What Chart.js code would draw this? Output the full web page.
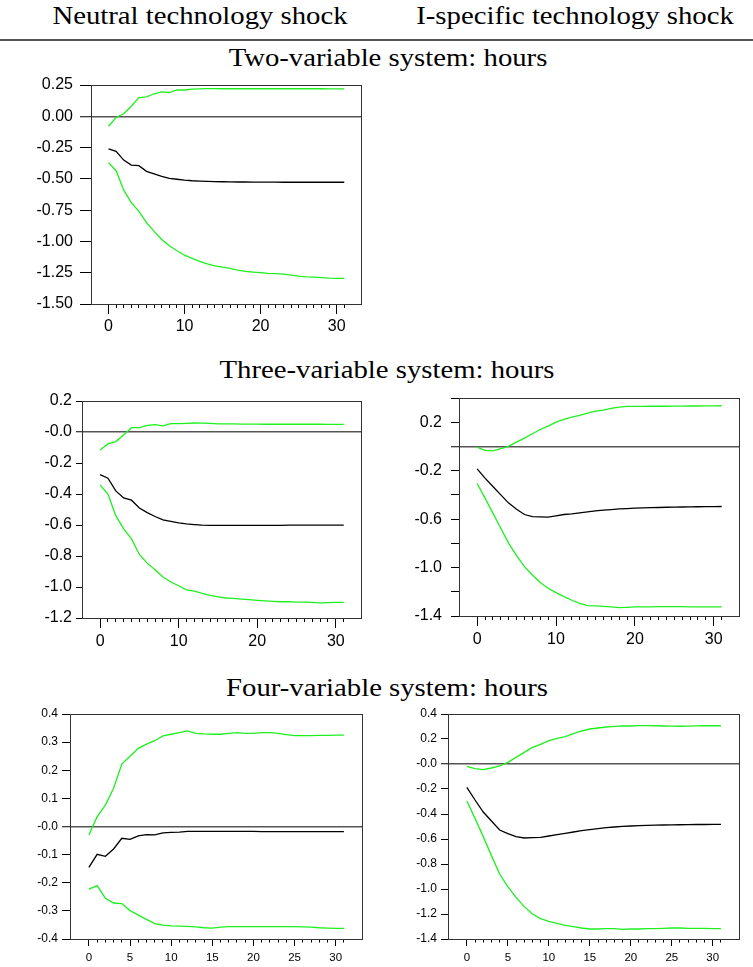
<!DOCTYPE html>
<html>
<head>
<meta charset="utf-8">
<title>Hours response to technology shocks</title>
<script src="https://cdn.jsdelivr.net/npm/chart.js@4.4.1/dist/chart.umd.min.js"></script>
<style>
  html, body { margin: 0; padding: 0; background: #fff; }
  body { width: 753px; height: 967px; position: relative; overflow: hidden;
         font-family: "Liberation Serif", "Times New Roman", serif; }
  .t { position: absolute; white-space: nowrap; font-size: 26px; line-height: 26px; color: #000;
       transform-origin: center top; transform: translateX(-50%) scaleX(1.105); }
  .rule { position: absolute; left: 0; top: 39px; width: 753px; height: 2px; background: #555; }
  .panel { position: absolute; }
  .panel canvas { display: block; }
</style>
</head>
<body>
<div class="t" style="left:200px; top:3px;">Neutral technology shock</div>
<div class="t" style="left:575px; top:3px;">I-specific technology shock</div>
<div class="rule"></div>
<div class="t" style="left:388px; top:45px;">Two-variable system: hours</div>
<div class="t" style="left:387px; top:357px;">Three-variable system: hours</div>
<div class="t" style="left:387px; top:675px;">Four-variable system: hours</div>

<div class="panel" id="p1"><canvas id="c1"></canvas></div>
<div class="panel" id="p2"><canvas id="c2"></canvas></div>
<div class="panel" id="p3"><canvas id="c3"></canvas></div>
<div class="panel" id="p4"><canvas id="c4"></canvas></div>
<div class="panel" id="p5"><canvas id="c5"></canvas></div>

<script>
// Horizon (quarters after the shock)
const horizons = [0,1,2,3,4,5,6,7,8,9,10,11,12,13,14,15,16,17,18,19,20,21,22,23,24,25,26,27,28,29,30,31];

// Two-variable system, neutral shock: response of hours and its band
const twoVarNeutralUpper = [-0.08,-0.01,0.02,0.08,0.15,0.155,0.18,0.195,0.19,0.21,0.21,0.217,0.219,0.221,0.221,0.22,
                            0.22,0.22,0.22,0.22,0.22,0.22,0.22,0.22,0.22,0.22,0.22,0.22,0.22,0.219,0.219,0.219];
const twoVarNeutralIrf   = [-0.26,-0.28,-0.35,-0.39,-0.395,-0.44,-0.46,-0.48,-0.497,-0.503,-0.51,-0.515,-0.518,-0.52,-0.522,-0.523,
                            -0.524,-0.525,-0.525,-0.526,-0.526,-0.526,-0.526,-0.527,-0.527,-0.527,-0.527,-0.527,-0.527,-0.527,-0.527,-0.527];
const twoVarNeutralLower = [-0.37,-0.435,-0.59,-0.69,-0.76,-0.85,-0.92,-0.985,-1.035,-1.075,-1.11,-1.135,-1.16,-1.18,-1.195,-1.205,
                            -1.215,-1.23,-1.24,-1.245,-1.25,-1.255,-1.257,-1.262,-1.27,-1.278,-1.283,-1.286,-1.29,-1.294,-1.295,-1.295];

// Three-variable system, neutral shock
const threeVarNeutralUpper = [-0.116,-0.077,-0.062,-0.019,0.028,0.028,0.043,0.047,0.039,0.054,0.054,0.056,0.058,0.057,0.055,0.053,
                              0.052,0.052,0.051,0.051,0.051,0.05,0.05,0.05,0.05,0.05,0.05,0.05,0.05,0.049,0.049,0.049];
const threeVarNeutralIrf   = [-0.275,-0.298,-0.38,-0.425,-0.44,-0.49,-0.52,-0.545,-0.567,-0.577,-0.586,-0.593,-0.597,-0.601,-0.603,-0.603,
                              -0.603,-0.603,-0.603,-0.603,-0.602,-0.602,-0.602,-0.602,-0.601,-0.601,-0.601,-0.601,-0.601,-0.601,-0.601,-0.601];
const threeVarNeutralLower = [-0.341,-0.40,-0.54,-0.625,-0.69,-0.79,-0.846,-0.889,-0.936,-0.968,-0.992,-1.018,-1.026,-1.041,-1.054,-1.063,
                              -1.071,-1.073,-1.078,-1.082,-1.086,-1.09,-1.093,-1.095,-1.095,-1.097,-1.097,-1.099,-1.103,-1.101,-1.099,-1.099];

// Three-variable system, investment-specific shock
const threeVarInvestUpper = [-0.005,-0.033,-0.036,-0.019,0.003,0.036,0.069,0.105,0.14,0.168,0.2,0.223,0.242,0.256,0.276,0.292,
                             0.3,0.314,0.325,0.331,0.331,0.331,0.332,0.332,0.332,0.333,0.333,0.334,0.334,0.335,0.335,0.336];
const threeVarInvestIrf   = [-0.185,-0.262,-0.331,-0.40,-0.468,-0.518,-0.562,-0.579,-0.581,-0.584,-0.573,-0.562,-0.557,-0.548,-0.54,-0.532,
                             -0.526,-0.521,-0.515,-0.513,-0.51,-0.507,-0.505,-0.504,-0.502,-0.501,-0.5,-0.499,-0.498,-0.497,-0.497,-0.496];
const threeVarInvestLower = [-0.306,-0.427,-0.551,-0.675,-0.80,-0.901,-0.992,-1.061,-1.124,-1.171,-1.207,-1.24,-1.27,-1.295,-1.314,-1.317,
                             -1.32,-1.325,-1.331,-1.328,-1.325,-1.325,-1.324,-1.323,-1.322,-1.322,-1.323,-1.324,-1.325,-1.325,-1.325,-1.325];

// Four-variable system, neutral shock
const fourVarNeutralUpper = [-0.03,0.035,0.076,0.136,0.222,0.25,0.278,0.293,0.305,0.322,0.328,0.334,0.34,0.331,0.329,0.328,
                             0.328,0.331,0.334,0.331,0.331,0.334,0.334,0.331,0.327,0.323,0.323,0.323,0.324,0.324,0.325,0.325];
const fourVarNeutralIrf   = [-0.145,-0.099,-0.106,-0.08,-0.042,-0.046,-0.033,-0.029,-0.03,-0.023,-0.021,-0.02,-0.017,-0.017,-0.017,-0.017,
                             -0.017,-0.017,-0.017,-0.017,-0.017,-0.018,-0.018,-0.018,-0.018,-0.018,-0.018,-0.018,-0.018,-0.018,-0.018,-0.018];
const fourVarNeutralLower = [-0.223,-0.21,-0.255,-0.272,-0.274,-0.299,-0.315,-0.33,-0.345,-0.351,-0.353,-0.354,-0.355,-0.357,-0.36,-0.361,
                             -0.358,-0.356,-0.356,-0.356,-0.356,-0.356,-0.356,-0.356,-0.356,-0.356,-0.357,-0.358,-0.36,-0.361,-0.362,-0.362];

// Four-variable system, investment-specific shock
const fourVarInvestUpper = [-0.019,-0.037,-0.045,-0.032,-0.016,0.013,0.053,0.093,0.133,0.157,0.187,0.205,0.219,0.243,0.264,0.28,
                            0.288,0.296,0.301,0.304,0.304,0.307,0.307,0.306,0.304,0.303,0.302,0.303,0.305,0.306,0.306,0.306];
const fourVarInvestIrf   = [-0.187,-0.288,-0.384,-0.456,-0.528,-0.557,-0.581,-0.592,-0.589,-0.587,-0.576,-0.565,-0.555,-0.544,-0.533,-0.525,
                            -0.517,-0.509,-0.504,-0.499,-0.496,-0.493,-0.491,-0.489,-0.488,-0.487,-0.486,-0.485,-0.484,-0.484,-0.483,-0.483];
const fourVarInvestLower = [-0.296,-0.435,-0.581,-0.733,-0.88,-0.981,-1.067,-1.141,-1.2,-1.237,-1.259,-1.275,-1.291,-1.301,-1.312,-1.32,
                            -1.32,-1.317,-1.317,-1.323,-1.32,-1.32,-1.317,-1.317,-1.315,-1.312,-1.312,-1.315,-1.315,-1.315,-1.317,-1.317];

// Axis ticks and their labels
const xLabelledEvery10 = [0, 10, 20, 30];
const xLabelledEvery5  = [0, 5, 10, 15, 20, 25, 30];

const yTicksTwoVar  = [0.25, 0, -0.25, -0.5, -0.75, -1, -1.25, -1.5];
const yLabelsTwoVar = ['0.25', '0.00', '-0.25', '-0.50', '-0.75', '-1.00', '-1.25', '-1.50'];

const yTicksThreeNeutral  = [0.2, 0, -0.2, -0.4, -0.6, -0.8, -1, -1.2];
const yLabelsThreeNeutral = ['0.2', '-0.0', '-0.2', '-0.4', '-0.6', '-0.8', '-1.0', '-1.2'];

const yTicksThreeInvest  = [0.4, 0.2, 0, -0.2, -0.4, -0.6, -0.8, -1, -1.2, -1.4];
const yLabelsThreeInvest = ['', '0.2', '', '-0.2', '', '-0.6', '', '-1.0', '', '-1.4'];

const yTicksFourNeutral  = [0.4, 0.3, 0.2, 0.1, 0, -0.1, -0.2, -0.3, -0.4];
const yLabelsFourNeutral = ['0.4', '0.3', '0.2', '0.1', '-0.0', '-0.1', '-0.2', '-0.3', '-0.4'];

const yTicksFourInvest  = [0.4, 0.2, 0, -0.2, -0.4, -0.6, -0.8, -1, -1.2, -1.4];
const yLabelsFourInvest = ['0.4', '0.2', '-0.0', '-0.2', '-0.4', '-0.6', '-0.8', '-1.0', '-1.2', '-1.4'];

// ---- styling and placement ----
const BAND_COLOR = '#1ef01e';
const IRF_COLOR = '#000000';
const ZERO_COLOR = '#555555';
const FRAME_COLOR = '#333333';
const SANS = '"Liberation Sans", Arial, Helvetica, sans-serif';
const PAD = 12;

// plot-area box (left, top, right, bottom) and axis dimensions for each panel
const panels = [
  { id: 'p1', canvas: 'c1', box: [91, 85, 361, 304], yW: 64, xH: 34,
    upper: twoVarNeutralUpper, irf: twoVarNeutralIrf, lower: twoVarNeutralLower,
    yMin: -1.5, yMax: 0.25, yTicks: yTicksTwoVar, yLabels: yLabelsTwoVar, xMajor: xLabelledEvery10,
    font: 16, yTickLen: 11, yPad: 7, majorLen: 10, minorLen: 4, xPad: 3 },
  { id: 'p2', canvas: 'c2', box: [82, 401, 361, 618], yW: 60, xH: 34,
    upper: threeVarNeutralUpper, irf: threeVarNeutralIrf, lower: threeVarNeutralLower,
    yMin: -1.2, yMax: 0.2, yTicks: yTicksThreeNeutral, yLabels: yLabelsThreeNeutral, xMajor: xLabelledEvery10,
    font: 16, yTickLen: 6, yPad: 4, majorLen: 10, minorLen: 4, xPad: 4 },
  { id: 'p3', canvas: 'c3', box: [459, 398, 739, 616], yW: 60, xH: 34,
    upper: threeVarInvestUpper, irf: threeVarInvestIrf, lower: threeVarInvestLower,
    yMin: -1.4, yMax: 0.4, yTicks: yTicksThreeInvest, yLabels: yLabelsThreeInvest, xMajor: xLabelledEvery10,
    font: 16, yTickLen: 8, yPad: 9, majorLen: 10, minorLen: 4, xPad: 4 },
  { id: 'p4', canvas: 'c4', box: [70, 714, 362, 939], yW: 50, xH: 28,
    upper: fourVarNeutralUpper, irf: fourVarNeutralIrf, lower: fourVarNeutralLower,
    yMin: -0.4, yMax: 0.4, yTicks: yTicksFourNeutral, yLabels: yLabelsFourNeutral, xMajor: xLabelledEvery5,
    font: 12, xFont: 11.5, yTickLen: 8, yPad: 4, majorLen: 7, minorLen: 3.5, xPad: 5 },
  { id: 'p5', canvas: 'c5', box: [448, 714, 739, 939], yW: 50, xH: 28,
    upper: fourVarInvestUpper, irf: fourVarInvestIrf, lower: fourVarInvestLower,
    yMin: -1.4, yMax: 0.4, yTicks: yTicksFourInvest, yLabels: yLabelsFourInvest, xMajor: xLabelledEvery5,
    font: 12, xFont: 11.5, yTickLen: 7, yPad: 4, majorLen: 7, minorLen: 3.5, xPad: 5 }
];

const X_MIN = -2.3, X_MAX = 33.2;

// outline around the plotting area
const framePlugin = {
  id: 'frame',
  afterDatasetsDraw(chart) {
    const { ctx, chartArea: a } = chart;
    ctx.save();
    ctx.strokeStyle = FRAME_COLOR;
    ctx.lineWidth = 1;
    const l = Math.round(a.left) + 0.5, t = Math.round(a.top) + 0.5;
    ctx.strokeRect(l, t, Math.round(a.right) - Math.round(a.left), Math.round(a.bottom) - Math.round(a.top));
    ctx.restore();
  }
};

function series(values, color) {
  return {
    data: horizons.map((h, i) => ({ x: h, y: values[i] })),
    borderColor: color, borderWidth: 1.3, pointRadius: 0, tension: 0, fill: false,
    xAxisID: 'x', yAxisID: 'y'
  };
}

function drawPanel(p) {
  const [L, T, R, B] = p.box;
  const left = L - p.yW, top = T - PAD;
  const width = R + PAD - left, height = B + p.xH - top;
  const holder = document.getElementById(p.id);
  holder.style.left = left + 'px';
  holder.style.top = top + 'px';
  const cv = document.getElementById(p.canvas);
  cv.width = width; cv.height = height;
  cv.style.width = width + 'px'; cv.style.height = height + 'px';

  const xFont = p.xFont || p.font;

  new Chart(cv, {
    type: 'line',
    data: { datasets: [series(p.upper, BAND_COLOR), series(p.irf, IRF_COLOR), series(p.lower, BAND_COLOR)] },
    options: {
      responsive: false, animation: false, devicePixelRatio: 1, events: [],
      layout: { padding: { top: PAD, right: PAD, left: 0, bottom: 0 } },
      plugins: { legend: { display: false }, tooltip: { enabled: false }, title: { display: false } },
      scales: {
        // short tick marks at every horizon
        xMinor: {
          type: 'linear', position: 'bottom', weight: -1, min: X_MIN, max: X_MAX,
          afterBuildTicks: s => { s.ticks = horizons.map(v => ({ value: v })); },
          afterFit: s => { s.height = 0; s.paddingLeft = 0; s.paddingRight = 0; },
          ticks: { display: false, autoSkip: false },
          grid: { display: true, drawOnChartArea: false, drawTicks: true, tickLength: p.minorLen,
                  tickColor: '#000', tickWidth: 1, color: 'rgba(0,0,0,0)' },
          border: { display: false }
        },
        // labelled horizons with longer marks
        x: {
          type: 'linear', position: 'bottom', min: X_MIN, max: X_MAX,
          afterBuildTicks: s => { s.ticks = p.xMajor.map(v => ({ value: v })); },
          afterFit: s => { s.height = p.xH; s.paddingLeft = 0; s.paddingRight = 0; },
          ticks: { autoSkip: false, maxRotation: 0, padding: p.xPad, color: '#000',
                   font: { family: SANS, size: xFont }, callback: v => String(v) },
          grid: { display: true, drawOnChartArea: false, drawTicks: true, tickLength: p.majorLen,
                  tickColor: '#000', tickWidth: 1, color: 'rgba(0,0,0,0)' },
          border: { display: false }
        },
        y: {
          type: 'linear', position: 'left', min: p.yMin, max: p.yMax,
          afterBuildTicks: s => { s.ticks = p.yTicks.map(v => ({ value: v })); },
          afterFit: s => { s.width = p.yW; s.paddingTop = 0; s.paddingBottom = 0; },
          ticks: { autoSkip: false, padding: p.yPad, color: '#000',
                   font: { family: SANS, size: p.font }, callback: (v, i) => p.yLabels[i] },
          grid: {
            display: true, drawOnChartArea: true, drawTicks: true, tickLength: p.yTickLen,
            tickColor: '#000', tickWidth: 1,
            color: c => (c.tick && Math.abs(c.tick.value) < 1e-9) ? ZERO_COLOR : 'rgba(0,0,0,0)',
            lineWidth: c => (c.tick && Math.abs(c.tick.value) < 1e-9) ? 1.5 : 1
          },
          border: { display: false }
        }
      }
    },
    plugins: [framePlugin]
  });
}

panels.forEach(drawPanel);
</script>
</body>
</html>
